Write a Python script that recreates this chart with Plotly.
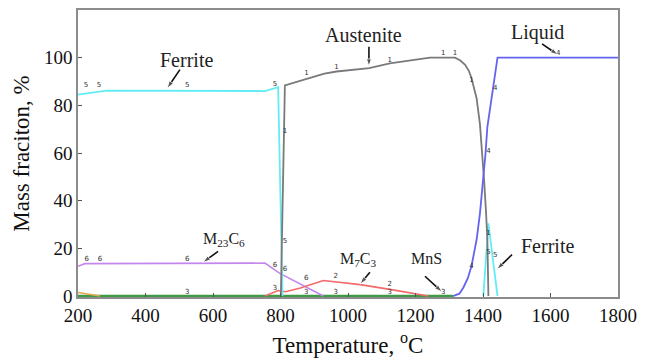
import plotly.graph_objects as go

# ---------------- data ----------------
ferrite_T = [200, 285, 754, 793, 806, None, 1401, 1416, 1443]
ferrite_y = [84.5, 86.2, 86.0, 87.6, 0, None, 0, 30.5, 0]

austenite_T = [801, 813, 905, 930, 966, 1063, 1124, 1200, 1243, 1317, 1333, 1347,
               1358, 1366, 1381, 1391, 1399, 1404, 1409, 1413, 1416]
austenite_y = [0, 88.4, 92.3, 93.3, 94.2, 95.6, 97.6, 99.2, 100, 100, 98.8, 97,
               94.5, 91.4, 83, 72, 58, 47, 35, 23.6, 0]

liquid_T = [1311, 1330, 1342, 1355, 1366, 1381, 1391, 1401, 1407, 1413, 1443, 1800]
liquid_y = [0, 1.0, 3.6, 7.5, 12.6, 23.6, 34.7, 48.5, 59, 71, 100, 100]

m23c6_T = [200, 220, 754, 798, 927]
m23c6_y = [12.5, 13.6, 13.8, 9.5, 0]

m7c3_T = [754, 793, 815, 859, 927, 1036, 1124, 1238]
m7c3_y = [0, 2.3, 1.8, 3.4, 6.5, 4.8, 2.8, 0]

mns_T = [200, 1311]
mns_y = [0, 0]

minor_T = [200, 265]
minor_y = [1.5, 0]

# small curve index labels (temperature, fraction, label)
idx_T = [224, 262, 524, 784, 813, 813, 877, 966, 1124, 1282, 1317, 1366,
         1623, 1436, 1416, 1366, 226, 265, 524, 784, 813, 876,
         524, 784, 876, 964, 1124, 1282, 964, 1124, 1416, 1436, 1416]
idx_y = [88.5, 88.5, 88.5, 89, 69, 23, 93.5, 96, 99, 102, 102, 90.7,
         102, 87, 60.7, 12.6, 15.4, 15.4, 15.4, 13, 11.2, 7.5,
         1.5, 3.2, 1.8, 1.4, 1.4, 1.4, 8.3, 5.1, 18.4, 17, 26.4]
idx_txt = ["5", "5", "5", "5", "1", "5", "1", "1", "1", "1", "1", "1",
           "4", "4", "4", "4", "6", "6", "6", "6", "6", "6",
           "3", "3", "3", "3", "3", "3", "2", "2", "5", "5", "1"]

x_ticks = [200, 400, 600, 800, 1000, 1200, 1400, 1600, 1800]
y_ticks = [0, 20, 40, 60, 80, 100]

SERIF = "Liberation Serif, Times New Roman, serif"

fig = go.Figure()

def add_line(T, y, color, width=1.8):
    fig.add_trace(go.Scatter(x=T, y=y, mode="lines", line=dict(color=color, width=width),
                             connectgaps=False, showlegend=False, hoverinfo="skip"))

add_line(mns_T, mns_y, "#3f9a45", 2.6)
add_line(minor_T, minor_y, "#e0a64a", 1.5)
add_line(m23c6_T, m23c6_y, "#c386ee", 1.6)
add_line(m7c3_T, m7c3_y, "#f26a6a", 1.6)
add_line(ferrite_T, ferrite_y, "#62ecf4", 1.8)
add_line(austenite_T, austenite_y, "#7a7a7a", 1.8)
add_line(liquid_T, liquid_y, "#6464ef", 1.8)

fig.add_trace(go.Scatter(x=idx_T, y=idx_y, mode="text", text=idx_txt,
                         textfont=dict(size=7, color="#333", family="DejaVu Sans"),
                         showlegend=False, hoverinfo="skip", cliponaxis=False))

# phase names
labels = [
    ("Ferrite", 520, 99.2, 20),
    ("Austenite", 1047, 109.5, 20),
    ("Liquid", 1560, 110.4, 20),
    ("M<sub>23</sub>C<sub>6</sub>", 633, 23.7, 16),
    ("M<sub>7</sub>C<sub>3</sub>", 1030, 15.2, 16),
    ("MnS", 1234, 15.6, 16),
    ("Ferrite", 1590, 21.2, 20),
]
for txt, x, y, s in labels:
    fig.add_annotation(x=x, y=y, text=txt, showarrow=False,
                       font=dict(family=SERIF, size=s, color="#222"))

# pointer arrows (tail -> head), drawn as short lines with an arrow marker at the head
arrows = [
    (502, 95, 464, 87.1),
    (1062, 104.6, 1062, 96.3),
    (1575, 105.8, 1622, 101.2),
    (615, 18.7, 570, 14.1),
    (1065, 10, 1036, 5),
    (1228, 8.3, 1279, 1.7),
    (1486, 17.4, 1441, 11.2),
]
for tx, ty, hx, hy in arrows:
    fig.add_trace(go.Scatter(x=[tx, hx], y=[ty, hy], mode="lines+markers",
                             line=dict(color="#111", width=1.6),
                             marker=dict(symbol="arrow", angleref="previous",
                                         size=[0, 8], color="#111"),
                             showlegend=False, hoverinfo="skip", cliponaxis=False))

axis_common = dict(showline=True, linecolor="#8c8c8c", linewidth=1.5, mirror=True,
                   showgrid=False, zeroline=False, ticks="inside", ticklen=4,
                   tickcolor="#555", tickwidth=1,
                   tickfont=dict(family=SERIF, size=19, color="#111"))

fig.update_xaxes(range=[200, 1800], tickvals=x_ticks, ticktext=[str(v) for v in x_ticks],
                 title=dict(text="Temperature, <sup>o</sup>C",
                            font=dict(family=SERIF, size=23, color="#111"), standoff=12),
                 **axis_common)
fig.update_yaxes(range=[-0.4, 120], tickvals=y_ticks, ticktext=[str(v) for v in y_ticks],
                 title=dict(text="Mass fraciton, %",
                            font=dict(family=SERIF, size=23, color="#111"), standoff=8),
                 **axis_common)

fig.update_layout(width=647, height=362, margin=dict(l=78, r=29, t=8, b=65),
                  plot_bgcolor="white", paper_bgcolor="white")

fig.write_html("out.html")
